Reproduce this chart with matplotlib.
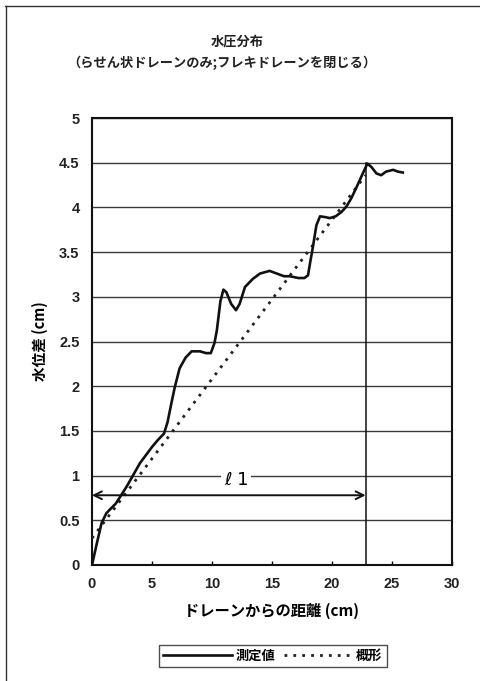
import matplotlib
matplotlib.use('Agg')
import matplotlib.pyplot as plt
from matplotlib.lines import Line2D

plt.rcParams['font.family'] = ['Noto Sans CJK JP', 'DejaVu Sans']

x_meas = [0, 0.2, 0.4, 0.8, 1.2, 2.0, 2.9, 4.0, 5.0, 5.5, 6.0, 6.3, 6.6, 6.9, 7.3,
          7.8, 8.3, 9.0, 9.5, 9.9, 10.2, 10.4, 10.7, 10.95, 11.2, 11.6, 12.0, 12.3,
          12.75, 13.4, 14.0, 14.8, 15.4, 16.0, 16.5, 17.2, 17.7, 18.0, 18.2, 18.4,
          18.7, 19.0, 19.5, 19.8, 20.3, 20.8, 21.2, 21.6, 22.06, 22.6, 22.95, 23.3,
          23.7, 24.1, 24.5, 25.1, 25.5, 25.9]
y_meas = [0, 0.12, 0.24, 0.47, 0.58, 0.69, 0.88, 1.14, 1.32, 1.40, 1.47, 1.6, 1.8,
          1.99, 2.2, 2.32, 2.39, 2.39, 2.37, 2.37, 2.48, 2.62, 2.95, 3.08, 3.05, 2.92,
          2.85, 2.92, 3.11, 3.2, 3.26, 3.29, 3.26, 3.23, 3.23, 3.21, 3.21, 3.24, 3.4,
          3.55, 3.8, 3.90, 3.89, 3.88, 3.9, 3.95, 4.01, 4.1, 4.23, 4.39, 4.49, 4.45,
          4.38, 4.36, 4.40, 4.42, 4.40, 4.39]

# approximate shape (dotted)
x_est = [0, 22.8]
y_est = [0.3, 4.36]

l1_end = 22.8      # length l1
l1_top = 4.5
arrow_y = 0.78

xticks = [0, 5, 10, 15, 20, 25, 30]
yticks = [0, 0.5, 1, 1.5, 2, 2.5, 3, 3.5, 4, 4.5, 5]
ytick_labels = ['0', '0.5', '1', '1.5', '2', '2.5', '3', '3.5', '4', '4.5', '5']

W, H = 481, 681
fig = plt.figure(figsize=(W / 100, H / 100), dpi=100)
ax = fig.add_axes([92 / W, 1 - 565 / H, 360 / W, 447 / H])

# outer frame of the scanned page (top and left only)
fig.add_artist(Line2D([5 / W, 1], [1 - 6 / H, 1 - 6 / H], color='#333333', lw=1.0))
fig.add_artist(Line2D([6 / W, 6 / W], [0, 1 - 6 / H], color='#333333', lw=1.0))

ax.set_xlim(0, 30)
ax.set_ylim(0, 5)
ax.set_yticks(yticks)
ax.set_yticklabels(ytick_labels)
ax.set_xticks(xticks)
ax.grid(axis='y', color='#3a3a3a', lw=1.0)
ax.set_axisbelow(True)
for s in ax.spines.values():
    s.set_linewidth(1.5)
    s.set_color('#111111')
ax.tick_params(axis='x', direction='in', length=3, width=1, pad=9)
ax.tick_params(axis='y', length=0, pad=9)
for lab in ax.get_xticklabels() + ax.get_yticklabels():
    lab.set_family('Liberation Sans')
    lab.set_fontweight('bold')
    lab.set_fontsize(10.5)
    lab.set_color('#222222')

ax.plot(x_meas, y_meas, color='#111111', lw=1.9, label='測定値', zorder=4)
ax.plot(x_est, y_est, color='#222222', lw=2.0, ls=(0, (1, 2.2)), label='概形', zorder=3)

# l1 marker
ax.plot([l1_end, l1_end], [0, l1_top], color='#111111', lw=1.1, zorder=3)
ax.annotate('', xy=(0, arrow_y), xytext=(l1_end, arrow_y),
            arrowprops=dict(arrowstyle='<->', lw=1.4, color='#111111',
                            mutation_scale=14, shrinkA=0, shrinkB=0), zorder=5)
ax.text(12.0, 0.95, 'ℓ 1', family=['DejaVu Sans', 'DejaVu Serif'], fontsize=13,
        ha='center', va='center',
        bbox=dict(facecolor='white', edgecolor='none', pad=2), zorder=6)

ax.set_ylabel('水位差 (cm)', fontsize=10.5, fontweight='bold', labelpad=8)
ax.set_xlabel('ドレーンからの距離 (cm)', fontsize=11, fontweight='bold', labelpad=8)

fig.text(237 / W, 1 - 42 / H, '水圧分布', ha='center', va='center',
         fontsize=9.5, fontweight='bold', color='#222222')
fig.text(222 / W, 1 - 63 / H, '（らせん状ドレーンのみ;フレキドレーンを閉じる）',
         ha='center', va='center', fontsize=9.5, fontweight='bold', color='#222222')

leg = fig.legend(loc='center', bbox_to_anchor=(273 / W, 1 - 656 / H), ncol=2,
                 frameon=True, fancybox=False, edgecolor='#222222',
                 handlelength=5.2, handletextpad=0.3, columnspacing=0.6,
                 borderpad=0.3, prop={'weight': 'bold', 'size': 9.5})
leg.get_frame().set_linewidth(1.0)

fig.savefig('out.png', dpi=100)
